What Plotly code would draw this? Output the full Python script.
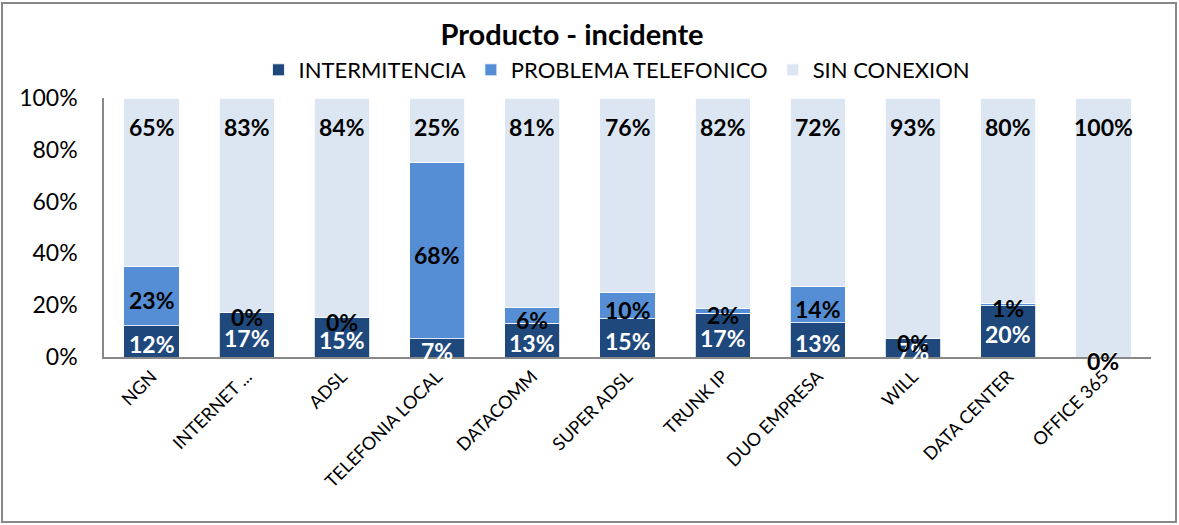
import plotly.graph_objects as go

categories = ["NGN", "INTERNET ...", "ADSL", "TELEFONIA LOCAL", "DATACOMM", "SUPER ADSL",
              "TRUNK IP", "DUO EMPRESA", "WILL", "DATA CENTER", "OFFICE 365"]
intermitencia = [12, 17, 15, 7, 13, 15, 17, 13, 7, 20, 0]
problema_telefonico = [23, 0, 0, 68, 6, 10, 2, 14, 0, 1, 0]
sin_conexion = [65, 83, 84, 25, 81, 76, 82, 72, 93, 80, 100]
y_ticks = [0, 20, 40, 60, 80, 100]

FONT = "Lato"
C_DARK = "#1F497D"
C_MID = "#558ED5"
C_LIGHT = "#DCE6F2"

W, H = 1179, 525
ML, MR, MT, MB = 104, 28, 98, 168

fig = go.Figure()
series = [("INTERMITENCIA", intermitencia, C_DARK),
          ("PROBLEMA TELEFONICO", problema_telefonico, C_MID),
          ("SIN CONEXION", sin_conexion, C_LIGHT)]
for name, vals, col in series:
    fig.add_trace(go.Bar(x=categories, y=vals, name=name, marker_color=col,
                         marker_line_color="white", marker_line_width=0.8,
                         hoverinfo="skip"))

LBL = 23
annotations = []
for i, c in enumerate(categories):
    a, b, s = intermitencia[i], problema_telefonico[i], sin_conexion[i]
    tot = (a + b + s) / 100.0
    annotations.append(dict(x=c, y=a / 2 / tot, text=f"{a}%", showarrow=False, yshift=-3,
                            font=dict(family=FONT, size=LBL, color="white", weight="bold")))
    annotations.append(dict(x=c, y=(a + b / 2) / tot, text=f"{b}%", showarrow=False, yshift=-4,
                            font=dict(family=FONT, size=LBL, color="black", weight="bold")))
    annotations.append(dict(x=c, y=100, text=f"{s}%", showarrow=False, yshift=-29,
                            font=dict(family=FONT, size=LBL, color="black", weight="bold")))

pw = W - ML - MR
ph = H - MT - MB

fig.update_layout(
    width=W, height=H,
    margin=dict(l=ML, r=MR, t=MT, b=MB),
    barmode="stack",
    barnorm="percent",
    bargap=0.42,
    plot_bgcolor="white",
    paper_bgcolor="white",
    font=dict(family=FONT, color="black"),
    title=dict(text="<b>Producto - incidente</b>", x=572 / W, xanchor="center",
               y=1 - 35 / H, yanchor="middle",
               font=dict(family=FONT, size=29, color="black")),
    legend=dict(orientation="h", x=(617 - ML) / pw, xanchor="center", y=1 + (MT - 70) / ph,
                yanchor="middle", font=dict(family=FONT, size=22, color="black"),
                traceorder="normal", itemwidth=30, bgcolor="rgba(0,0,0,0)"),
    xaxis=dict(showgrid=False, showline=True, linecolor="#888888", linewidth=2,
               tickangle=-45, tickfont=dict(family=FONT, size=18, color="black"),
               ticks=""),
    yaxis=dict(range=[0, 100], tickvals=y_ticks, ticktext=[f"{v}%" for v in y_ticks],
               showgrid=False, showline=True, linecolor="#888888", linewidth=1.5,
               tickfont=dict(family=FONT, size=23, color="black"), ticks="",
               ticklabelstandoff=20, zeroline=False),
    annotations=annotations,
    shapes=[dict(type="rect", xref="paper", yref="paper",
                 x0=(2 - ML) / pw, x1=(W - 3 - ML) / pw,
                 y0=-(H - 3 - MT - ph) / ph, y1=1 + (MT - 3) / ph,
                 line=dict(color="#888888", width=2), fillcolor="rgba(0,0,0,0)", layer="below")],
)

fig.write_html("out.html")
